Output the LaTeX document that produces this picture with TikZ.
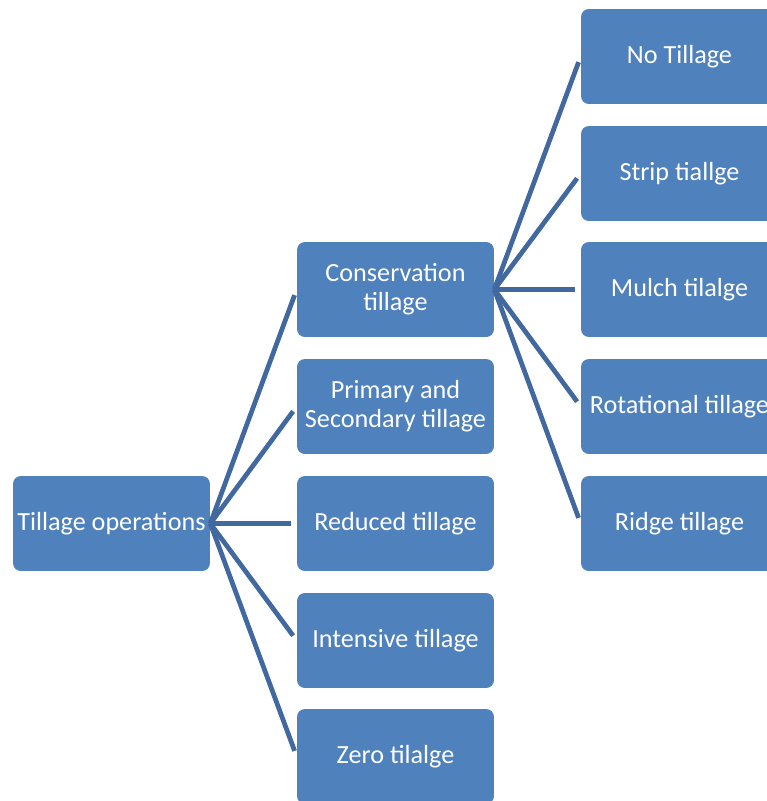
\documentclass[tikz,border=0pt]{standalone}
\usepackage{fontspec}
\setmainfont{Carlito}
\definecolor{boxBlue}{HTML}{4F81BD}
\definecolor{lineBlue}{HTML}{41699F}

\begin{document}
\begin{tikzpicture}
[x=0.02cm, y=-0.02cm,
  nodeDecorate/.style={shape=rectangle,rounded corners=4.5pt,fill=boxBlue,
    text=white,minimum width=3.94cm,minimum height=1.9cm,inner sep=0pt,
    align=center,font=\fontsize{14.9}{16.4}\selectfont},
  lineDecorate/.style={-,draw=lineBlue,line width=2.7pt,shorten >=3.4pt}]
\clip (0,0) rectangle (767,801);
%% nodes or boxes
\node (root) at (111.5,523.5) [nodeDecorate] {Tillage operations};
\foreach \nodename/\y/\txt in {
  cons/289.5/{Conservation\\tillage},
  prim/406.5/{Primary and\\Secondary tillage},
  redu/523.5/{Reduced tillage},
  inte/640.5/{Intensive tillage},
  zero/756.5/{Zero tilalge}}
{
  \node (\nodename) at (395.5,\y) [nodeDecorate] {\txt};
}
\foreach \nodename/\y/\txt in {
  no/56.5/{No Tillage},
  strip/173.5/{Strip tiallge},
  mulch/289.5/{Mulch tilalge},
  rota/406.5/{Rotational tillage},
  ridge/523.5/{Ridge tillage}}
{
  \node (\nodename) at (679.5,\y) [nodeDecorate] {\txt};
}
%% edges or lines
\path
\foreach \startnode/\endnode in {
  root/cons, root/prim, root/redu, root/inte, root/zero,
  cons/no, cons/strip, cons/mulch, cons/rota, cons/ridge}
{
  (\startnode.east) edge[lineDecorate] (\endnode.west)
};
\end{tikzpicture}
\end{document}
